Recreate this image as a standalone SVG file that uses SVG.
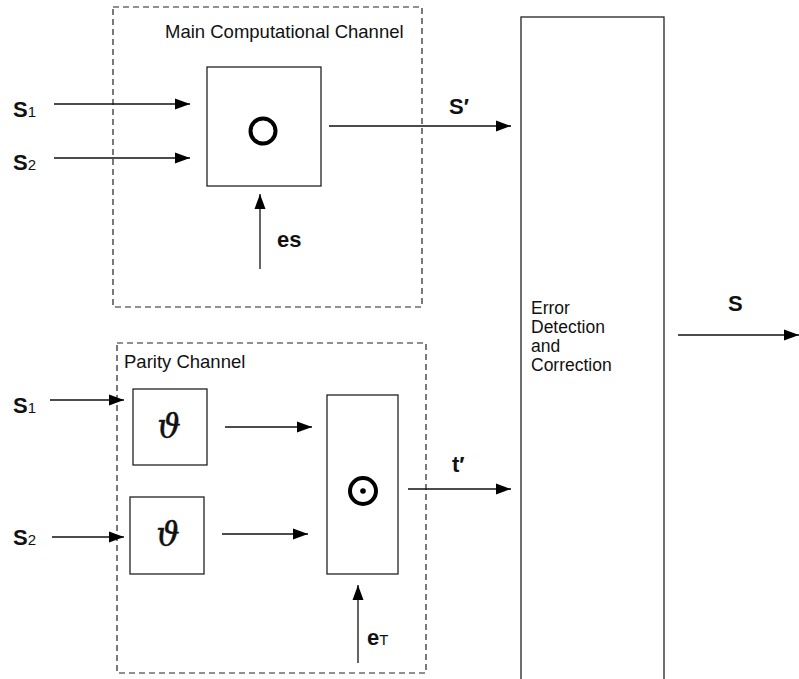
<svg xmlns="http://www.w3.org/2000/svg" width="799" height="679" viewBox="0 0 799 679">
<defs>
<marker id="ah" markerUnits="userSpaceOnUse" markerWidth="16" markerHeight="12" refX="15" refY="6" orient="auto">
<path d="M0,0.5 L15,6 L0,11.5 Z" fill="#000"/>
</marker>
<style>
.box{fill:#fff;stroke:#222;stroke-width:1.3}
.dash{fill:none;stroke:#222;stroke-width:1.2;stroke-dasharray:6 4}
.ln{fill:none;stroke:#111;stroke-width:1.3}
.t{font-family:"Liberation Sans",Arial,sans-serif;fill:#111}
.lbl{font-family:"Liberation Sans",Arial,sans-serif;font-weight:bold;font-size:22px;fill:#111}
.sub{font-size:15px;font-weight:normal}
.th{font-family:"DejaVu Serif","Liberation Serif",serif;font-style:italic;font-size:33px;fill:#111;stroke:#111;stroke-width:0.4;text-anchor:middle}
</style>
</defs>
<rect width="799" height="679" fill="#fff"/>

<g id="main-channel">
<rect class="dash" x="113" y="7" width="309" height="300"/>
<text class="t" x="165" y="38" font-size="18.5">Main Computational Channel</text>
</g>
<g id="main-op">
<rect class="box" x="207" y="67" width="114" height="119"/>
<circle cx="263" cy="131" r="12.5" fill="none" stroke="#000" stroke-width="4"/>
</g>

<g id="parity-channel">
<rect class="dash" x="117" y="343" width="309" height="330"/>
<text class="t" x="124" y="368" font-size="18.5">Parity Channel</text>
</g>
<g id="theta1">
<rect class="box" x="133" y="389" width="74" height="76"/>
<text class="th" x="169" y="438">ϑ</text>
</g>
<g id="theta2">
<rect class="box" x="130" y="497" width="74" height="77"/>
<text class="th" x="168" y="546">ϑ</text>
</g>
<g id="parity-op">
<rect class="box" x="327" y="395" width="71" height="179"/>
<circle cx="363" cy="491" r="13" fill="none" stroke="#000" stroke-width="4"/>
<circle cx="363" cy="491" r="2.8" fill="#000"/>
</g>

<g id="edc">
<rect class="box" x="521" y="17" width="143" height="680"/>
<text class="t" font-size="17.5"><tspan x="531" y="314">Error</tspan><tspan x="531" y="333">Detection</tspan><tspan x="531" y="352">and</tspan><tspan x="531" y="371">Correction</tspan></text>
</g>

<g id="connectors">
<line class="ln" x1="54" y1="104" x2="190" y2="104" marker-end="url(#ah)"/>
<line class="ln" x1="54" y1="158" x2="190" y2="158" marker-end="url(#ah)"/>
<line class="ln" x1="260" y1="269" x2="260" y2="194" marker-end="url(#ah)"/>
<line class="ln" x1="329" y1="126" x2="511" y2="126" marker-end="url(#ah)"/>
<line class="ln" x1="50" y1="400" x2="124" y2="400" marker-end="url(#ah)"/>
<line class="ln" x1="52" y1="537" x2="124" y2="537" marker-end="url(#ah)"/>
<line class="ln" x1="225" y1="427" x2="312" y2="427" marker-end="url(#ah)"/>
<line class="ln" x1="222" y1="534" x2="308" y2="534" marker-end="url(#ah)"/>
<line class="ln" x1="358" y1="663" x2="358" y2="585" marker-end="url(#ah)"/>
<line class="ln" x1="408" y1="489" x2="511" y2="489" marker-end="url(#ah)"/>
<line class="ln" x1="678" y1="335" x2="799" y2="335" marker-end="url(#ah)"/>
</g>

<g id="labels">
<text class="lbl" x="13" y="117">S<tspan class="sub">1</tspan></text>
<text class="lbl" x="13" y="170">S<tspan class="sub">2</tspan></text>
<text class="lbl" x="277" y="247">es</text>
<text class="lbl" x="449" y="114">S′</text>
<text class="lbl" x="728" y="311">S</text>
<text class="lbl" x="13" y="413">S<tspan class="sub">1</tspan></text>
<text class="lbl" x="13" y="545">S<tspan class="sub">2</tspan></text>
<text class="lbl" x="367" y="645">e<tspan class="sub">T</tspan></text>
<text class="lbl" x="452" y="472">t′</text>
</g>
</svg>
